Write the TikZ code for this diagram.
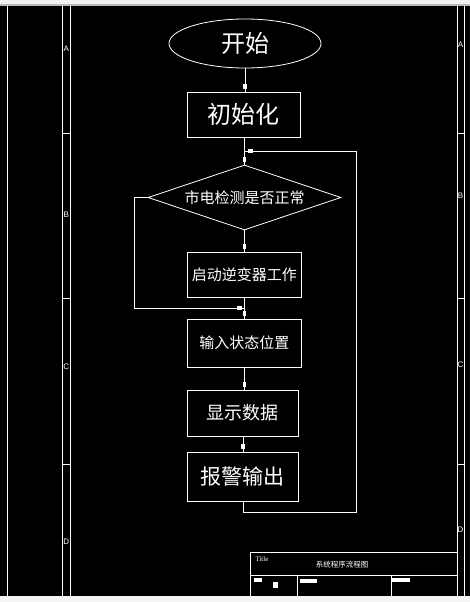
\documentclass[tikz,border=0pt]{standalone}
\usepackage{fontspec}
\setmainfont{Liberation Serif}
\newfontfamily\cjk{Noto Sans CJK SC}
\newfontfamily\zonefont{Liberation Sans}
\usetikzlibrary{shapes.geometric}
\usetikzlibrary{decorations.markings}

\tikzset{
	cadline/.style={draw=white, line width=0.8pt},
	flow/.style={cadline, postaction={decorate},
		decoration={markings, mark=at position -5.5pt with {\fill[white] (-2.5pt,-1.6pt) rectangle (2.5pt,1.6pt);}}},
	stepbox/.style={draw=white, line width=0.8pt, rectangle, inner sep=0pt, anchor=west, text=white},
	zone/.style={text=white, inner sep=0pt, font=\zonefont\fontsize{8pt}{8pt}\selectfont},
}

\begin{document}
\begin{tikzpicture}[x=1pt, y=-1pt]
	\useasboundingbox (0,0) rectangle (470,602);
	\fill[black] (0,0) rectangle (470,602);
	\fill[gray!12] (0,0) rectangle (470,4);
	\fill[gray!55] (0,4) rectangle (470,6);
	\fill[gray!8] (0,596) rectangle (470,602);

	\draw[cadline] (7,6) -- (7,596);
	\draw[cadline] (62.5,6) -- (62.5,596);
	\draw[cadline] (70,6) -- (70,596);
	\draw[cadline] (457,6) -- (457,596);
	\draw[cadline] (464,6) -- (464,596);
	\foreach \y in {133,298,464} {
		\draw[cadline] (62.5,\y) -- (70,\y);
		\draw[cadline] (457,\y) -- (464,\y);
	}
	\node[zone] at (66.2,49) {A};
	\node[zone] at (66.2,215) {B};
	\node[zone] at (66.2,367) {C};
	\node[zone] at (66.2,542) {D};
	\node[zone] at (460.5,45) {A};
	\node[zone] at (460.5,196) {B};
	\node[zone] at (460.5,365) {C};
	\node[zone] at (460.5,530) {D};

	\draw[cadline] (457,552) -- (250,552) -- (250,596);
	\draw[cadline] (250,575) -- (457,575);
	\draw[cadline] (297,575) -- (297,596);
	\draw[cadline] (391,575) -- (391,596);
	\node[text=white, inner sep=0pt, font=\fontsize{7pt}{7pt}\selectfont] at (262,559) {Title};
	\node[text=white, inner sep=0pt, font=\cjk\fontsize{7.5pt}{7.5pt}\selectfont] at (342,565) {系统程序流程图};
	\fill[white] (254,578) rectangle (262,582);
	\fill[white] (273,582) rectangle (278,588);
	\fill[white] (300,579) rectangle (317,583);
	\fill[white] (392,578) rectangle (410,582);

	\node[draw=white, line width=0.8pt, ellipse, minimum width=152pt, minimum height=49pt,
		text=white, font=\cjk\fontsize{24pt}{24pt}\selectfont] (start) at (245,43.5) {开始};
	\node[stepbox, minimum width=113pt, minimum height=45pt,
		font=\cjk\fontsize{24pt}{24pt}\selectfont] (init) at (187,114.5) {初始化};
	\node[draw=white, line width=0.8pt, diamond, aspect=3, inner sep=0pt,
		minimum width=193pt, minimum height=65pt,
		text=white, font=\cjk\fontsize{15pt}{15pt}\selectfont] (check) at (244.5,197.5) {市电检测是否正常};
	\node[stepbox, minimum width=114pt, minimum height=45pt,
		font=\cjk\fontsize{15pt}{15pt}\selectfont] (work) at (187,274.5) {启动逆变器工作};
	\node[stepbox, minimum width=114pt, minimum height=48pt,
		font=\cjk\fontsize{15pt}{15pt}\selectfont] (input) at (187,343) {输入状态位置};
	\node[stepbox, minimum width=111pt, minimum height=46pt,
		font=\cjk\fontsize{18pt}{18pt}\selectfont] (display) at (187,413) {显示数据};
	\node[stepbox, minimum width=111pt, minimum height=49pt,
		font=\cjk\fontsize{21pt}{21pt}\selectfont] (alarm) at (187,476.5) {报警输出};

	\coordinate (rightjoin) at (244.5,151);
	\coordinate (leftjoin) at (244.5,308);
	\coordinate (loopcorner) at (356,151);

	\draw[flow] (start.south) -- (start.south |- init.north);
	\draw[flow] (check.north |- init.south) -- (check.north);
	\draw[flow] (check.south) -- (check.south |- work.north);
	\draw[flow] (check.south |- work.south) -- (check.south |- input.north);
	\draw[flow] (input.south) -- (input.south |- display.north);
	\draw[flow] (display.south) -- (display.south |- alarm.north);
	\draw[flow] (check.west) -- ++(-13,0) |- (leftjoin);
	\draw[flow] (alarm.south) -- ++(0,11) -| (loopcorner) -- (rightjoin);
\end{tikzpicture}
\end{document}
